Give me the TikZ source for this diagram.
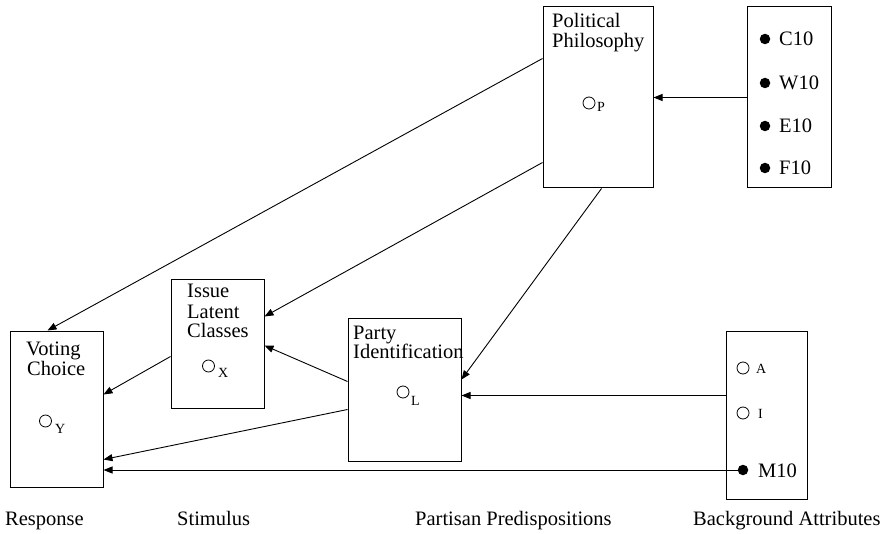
\documentclass[tikz,border=0pt]{standalone}
\usepackage{fontspec}
\setmainfont{Liberation Serif}
\usetikzlibrary{arrows.meta}

\begin{document}
\begin{tikzpicture}[x=1pt,y=-1pt,
  box/.style={draw,line width=1pt,inner sep=0pt},
  txt/.style={inner sep=0pt,anchor=base west,font=\fontsize{20.5}{20}\selectfont},
  small/.style={inner sep=0pt,anchor=base west,font=\fontsize{14}{14}\selectfont},
  opendot/.style={circle,draw,line width=0.8pt,minimum size=12pt,inner sep=0pt},
  fulldot/.style={circle,fill,minimum size=10.5pt,inner sep=0pt},
  link/.style={line width=0.9pt,-{Triangle[length=9pt,width=7pt]}}]
\useasboundingbox (0,0) rectangle (890,534);

% boxes
\node[box,minimum width=110pt,minimum height=181pt] (pp)  at (598,97.5) {};
\node[box,minimum width=84pt, minimum height=181pt] (bg1) at (789,97.5) {};
\node[box,minimum width=93pt, minimum height=156pt] (vc)  at (56.5,409) {};
\node[box,minimum width=93pt, minimum height=129pt] (ilc) at (217.5,343.5) {};
\node[box,minimum width=113pt,minimum height=143pt] (pid) at (404.5,389.5) {};
\node[box,minimum width=81pt, minimum height=168pt] (bg2) at (766.5,415) {};

% box titles
\node[txt] (ppt1) at (552,28) {Political};
\node[txt] (ppt2) at (552,48) {Philosophy};
\node[txt] (vct1) at (26,355) {Voting};
\node[txt] (vct2) at (27,375) {Choice};
\node[txt] (ilt1) at (187,298) {Issue};
\node[txt] (ilt2) at (187,318) {Latent};
\node[txt] (ilt3) at (187,337) {Classes};
\node[txt] (pit1) at (353,339) {Party};
\node[txt] (pit2) at (353,358) {Identification};

% latent variables
\node[opendot] (cp) at (589,103) {};
\node[small] (sp) at (597,112) {P};
\node[opendot] (cx) at (208.5,366) {};
\node[small] (sx) at (218,377) {X};
\node[opendot] (cy) at (45.5,421) {};
\node[small] (sy) at (55,433) {Y};
\node[opendot] (cl) at (403,392) {};
\node[small] (sl) at (411,405) {L};

% observed covariates, upper block
\node[fulldot] (dc) at (765,39) {};
\node[txt] (tc) at (779,46) {C10};
\node[fulldot] (dw) at (765,83) {};
\node[txt] (tw) at (779,90) {W10};
\node[fulldot] (de) at (765,126) {};
\node[txt] (te) at (779,133) {E10};
\node[fulldot] (df) at (765,168) {};
\node[txt] (tf) at (779,175) {F10};

% observed covariates, lower block
\node[opendot] (da) at (743,368) {};
\node[small] (ta) at (756,373) {A};
\node[opendot] (di) at (743,413) {};
\node[small] (ti) at (758,418) {I};
\node[fulldot] (dm) at (743,470) {};
\node[txt] (tm) at (758,477) {M10};

% paths
\draw[link] (bg1.west) -- (pp.east);
\draw[link] ([yshift=-52pt]pp.north west) -- ([xshift=38pt]vc.north west);
\draw[link] ([yshift=-156pt]pp.north west) -- ([yshift=-38pt]ilc.north east);
\draw[link] ([xshift=59pt]pp.south west) -- ([yshift=-62pt]pid.north east);
\draw[link] ([yshift=-64pt]pid.north west) -- ([yshift=-67pt]ilc.north east);
\draw[link] ([yshift=-78pt]ilc.north west) -- ([yshift=-64pt]vc.north east);
\draw[link] ([yshift=-92pt]pid.north west) -- ([yshift=-129pt]vc.north east);
\draw[link] ([yshift=-65pt]bg2.north west) -- ([yshift=-78pt]pid.north east);
\draw[link] (dm) -- (vc.east |- dm);

% column captions
\node[txt] (c1) at (5,525) {Response};
\node[txt] (c2) at (177,525) {Stimulus};
\node[txt] (c3) at (415,525) {Partisan Predispositions};
\node[txt] (c4) at (693,525) {Background Attributes};
\end{tikzpicture}
\end{document}
